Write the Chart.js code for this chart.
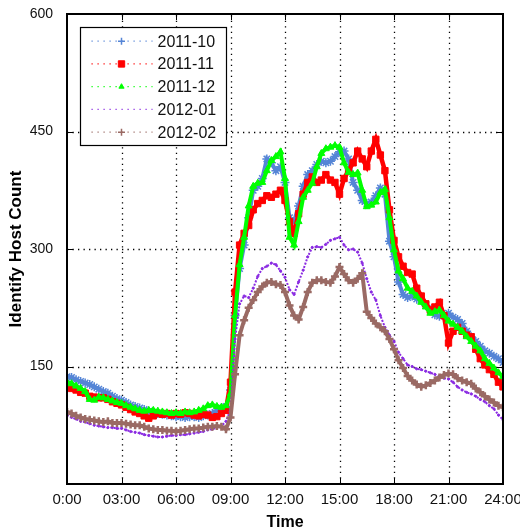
<!DOCTYPE html>
<html><head><meta charset="utf-8">
<script src="https://cdn.jsdelivr.net/npm/chart.js@4"></script>
<style>html,body{margin:0;padding:0;background:#fff}canvas{display:block}</style>
</head><body>
<canvas id="c" width="520" height="531"></canvas>
<script>
// ---- data (15-minute samples, 0:00 .. 24:00) ----
const seriesNames = ['2011-10', '2011-11', '2011-12', '2012-01', '2012-02'];
const hours = [];
for (let i = 0; i <= 96; i++) hours.push(i / 4);
const xTickLabels = ['0:00', '03:00', '06:00', '09:00', '12:00', '15:00', '18:00', '21:00', '24:00'];
const yTickValues = [0, 150, 300, 450, 600];

const s201110 = [
  137,136,133,131,129,127,124,121,118,116,112,109,
  107,104,101,99,97,95,93,91,90,89,88,87,
  86,86,85,86,86,85,87,88,90,94,97,99,
  120,215,275,305,340,375,380,390,415,410,400,405,
  385,340,335,355,380,395,400,408,412,410,412,418,
  424,425,415,385,375,362,358,360,368,378,370,310,
  290,258,242,238,240,236,235,228,222,216,214,216,
  218,213,210,205,195,188,182,176,170,167,163,160,
  155];
const s201111 = [
  124,122,120,117,116,112,111,110,110,108,105,103,
  101,98,95,92,90,87,84,87,90,89,90,88,
  90,89,91,90,88,87,89,88,85,86,90,94,
  130,245,305,320,330,350,358,362,368,366,370,375,
  362,335,320,345,370,385,392,385,388,395,388,385,
  370,390,400,410,425,415,405,425,440,420,400,350,
  311,290,278,270,268,250,240,230,222,226,232,215,
  180,195,200,195,190,188,172,160,152,146,140,130,
  124];
const s201112 = [
  130,128,125,122,118,108,107,111,110,108,106,104,
  103,100,98,96,94,93,94,94,93,92,91,90,
  91,90,92,91,92,94,96,100,101,99,98,100,
  115,215,280,315,355,380,384,385,400,413,418,424,
  390,315,305,335,366,375,384,405,422,428,430,432,
  430,410,398,395,397,375,354,356,360,372,376,340,
  299,272,262,250,246,240,232,226,218,220,222,215,
  208,204,200,195,188,182,176,170,160,154,148,142,
  137];
const s201201 = [
  88,85,83,80,79,77,75,74,73,72,72,71,
  71,69,67,66,65,63,62,61,60,60,61,62,
  62,63,63,64,65,66,67,69,70,72,74,80,
  95,185,230,240,238,250,265,275,278,282,280,272,
  264,248,242,258,273,290,302,303,302,306,311,313,
  315,305,299,300,296,282,262,245,235,215,200,190,
  182,168,160,152,150,147,146,144,142,140,137,135,
  134,130,124,120,117,115,112,108,105,100,96,88,
  82];
const s201202 = [
  92,90,87,85,83,82,81,80,79,80,78,78,
  78,77,76,75,75,73,71,70,69,69,68,68,
  67,68,69,70,71,71,72,73,73,74,73,70,
  85,140,190,209,225,235,245,252,257,258,255,254,
  245,228,215,210,226,245,257,260,260,258,257,265,
  277,268,260,257,262,269,220,212,205,200,195,185,
  172,158,148,138,132,127,124,126,129,132,136,139,
  141,140,135,132,130,128,122,117,112,108,104,100,
  98];

const seriesValues = [s201110, s201111, s201112, s201201, s201202];
const seriesColors = ['#5585d6', '#ff0000', '#00ff00', '#8a2be2', '#9a6a64'];
const seriesMarkers = [
  {pointStyle: 'star', radius: 4.5, borderWidth: 1.5, line: 4, dash: []},
  {pointStyle: 'rect', radius: 4.5, borderWidth: 1, line: 4.5, dash: []},
  {pointStyle: 'triangle', radius: 4, borderWidth: 1, line: 4, dash: []},
  {pointStyle: 'circle', radius: 1.1, borderWidth: 1, line: 2, dash: [2, 1.5]},
  {pointStyle: 'cross', radius: 4, borderWidth: 2.5, line: 4, dash: []}
];
const legendMarkers = [
  {pointStyle: 'cross', radius: 3.5, borderWidth: 1.5},
  {pointStyle: 'rect', radius: 4.5, borderWidth: 1},
  {pointStyle: 'triangle', radius: 3, borderWidth: 1},
  null,
  {pointStyle: 'cross', radius: 3.5, borderWidth: 1.5}
];

const FONT = 'Liberation Sans';

const datasets = seriesNames.map((name, i) => ({
  label: name,
  data: hours.map((h, k) => ({x: h, y: seriesValues[i][k]})),
  borderColor: seriesColors[i],
  backgroundColor: seriesColors[i],
  borderWidth: seriesMarkers[i].line,
  borderDash: seriesMarkers[i].dash,
  pointStyle: seriesMarkers[i].pointStyle,
  pointRadius: seriesMarkers[i].radius,
  pointBorderWidth: seriesMarkers[i].borderWidth,
  pointBackgroundColor: seriesColors[i],
  pointBorderColor: seriesColors[i],
  order: seriesNames.length - i,
  tension: 0
}));

const framePlugin = {
  id: 'frame',
  beforeDatasetsDraw(chart) {
    const {ctx, chartArea: a, scales: {x, y}} = chart;
    ctx.save();
    ctx.strokeStyle = '#000';
    ctx.lineWidth = 1.3;
    ctx.setLineDash([1.3, 4.2]);
    x.ticks.forEach(t => {
      const px = Math.round(x.getPixelForValue(t.value)) + 0.5;
      if (px <= a.left + 2 || px >= a.right - 2) return;
      ctx.beginPath(); ctx.moveTo(px, a.bottom); ctx.lineTo(px, a.top); ctx.stroke();
    });
    y.ticks.forEach(t => {
      const py = Math.round(y.getPixelForValue(t.value)) + 0.5;
      if (py <= a.top + 2 || py >= a.bottom - 2) return;
      ctx.beginPath(); ctx.moveTo(a.left, py); ctx.lineTo(a.right, py); ctx.stroke();
    });
    ctx.restore();
  },
  afterDatasetsDraw(chart) {
    const {ctx, chartArea: a, scales: {x, y}} = chart;
    ctx.save();
    // legend box
    const bx = Math.round(a.left + 13) + 0.5, by = Math.round(a.top + 13) + 0.5, bw = 146, bh = 118;
    ctx.fillStyle = '#fff';
    ctx.fillRect(bx, by, bw, bh);
    ctx.strokeStyle = '#000';
    ctx.lineWidth = 1.2;
    ctx.setLineDash([]);
    ctx.strokeRect(bx, by, bw, bh);
    chart.data.datasets.forEach((ds, i) => {
      const cy = by + 13.7 + i * 22.75;
      ctx.strokeStyle = seriesColors[i];
      ctx.lineWidth = 1.2;
      ctx.setLineDash([1.2, 4.8]);
      ctx.beginPath(); ctx.moveTo(bx + 11, cy); ctx.lineTo(bx + 72, cy); ctx.stroke();
      ctx.setLineDash([]);
      const m = legendMarkers[i];
      if (m) {
        ctx.fillStyle = seriesColors[i];
        ctx.strokeStyle = seriesColors[i];
        ctx.lineWidth = m.borderWidth;
        Chart.helpers.drawPoint(ctx, {pointStyle: m.pointStyle, radius: m.radius, borderWidth: m.borderWidth, rotation: 0}, bx + 41, cy);
      }
      ctx.fillStyle = '#111';
      ctx.font = '16px "' + FONT + '"';
      ctx.textBaseline = 'middle';
      ctx.textAlign = 'left';
      ctx.fillText(ds.label, bx + 77, cy + 1);
    });
    // frame
    ctx.strokeStyle = '#000';
    ctx.lineWidth = 2;
    ctx.strokeRect(a.left, a.top, a.right - a.left, a.bottom - a.top);
    // inward tick marks on all four sides
    ctx.lineWidth = 1;
    const tl = 6;
    x.ticks.forEach(t => {
      const px = Math.round(x.getPixelForValue(t.value)) + 0.5;
      ctx.beginPath();
      ctx.moveTo(px, a.bottom); ctx.lineTo(px, a.bottom - tl);
      ctx.moveTo(px, a.top); ctx.lineTo(px, a.top + tl);
      ctx.stroke();
    });
    y.ticks.forEach(t => {
      const py = Math.round(y.getPixelForValue(t.value)) + 0.5;
      ctx.beginPath();
      ctx.moveTo(a.left, py); ctx.lineTo(a.left + tl, py);
      ctx.moveTo(a.right, py); ctx.lineTo(a.right - tl, py);
      ctx.stroke();
    });
    ctx.restore();
  }
};

new Chart(document.getElementById('c'), {
  type: 'line',
  data: {datasets},
  options: {
    responsive: false,
    animation: false,
    devicePixelRatio: 1,
    layout: {padding: {left: 0, right: 17, top: 14, bottom: 0}},
    plugins: {legend: {display: false}, tooltip: {enabled: false}},
    scales: {
      x: {
        type: 'linear',
        min: 0, max: 24,
        grid: {display: false, drawTicks: false},
        border: {display: false},
        ticks: {
          stepSize: 3,
          autoSkip: false,
          maxRotation: 0,
          padding: 7,
          color: '#111',
          font: {family: FONT, size: 15},
          callback: v => xTickLabels[Math.round(v / 3)]
        },
        title: {
          display: true, text: 'Time', color: '#000',
          font: {family: FONT, size: 16, weight: 'bold', lineHeight: 1},
          padding: {top: 0, bottom: 0}
        },
        afterFit(s) { s.height = 47; s.paddingLeft = 0; s.paddingRight = 0; }
      },
      y: {
        min: 0, max: 600,
        grid: {display: false, drawTicks: false},
        border: {display: false},
        afterBuildTicks(s) { s.ticks = yTickValues.map(v => ({value: v})); },
        ticks: {
          padding: 14,
          color: '#111',
          font: {family: FONT, size: 14},
          callback: v => (v === 0 ? '' : String(v))
        },
        title: {
          display: true, text: 'Identify Host Count', color: '#000',
          font: {family: FONT, size: 17, weight: 'bold', lineHeight: 1.2},
          padding: {top: 6, bottom: 0}
        },
        afterFit(s) { s.width = 67; s.paddingTop = 0; s.paddingBottom = 0; }
      }
    }
  },
  plugins: [framePlugin]
});
</script>
</body></html>
